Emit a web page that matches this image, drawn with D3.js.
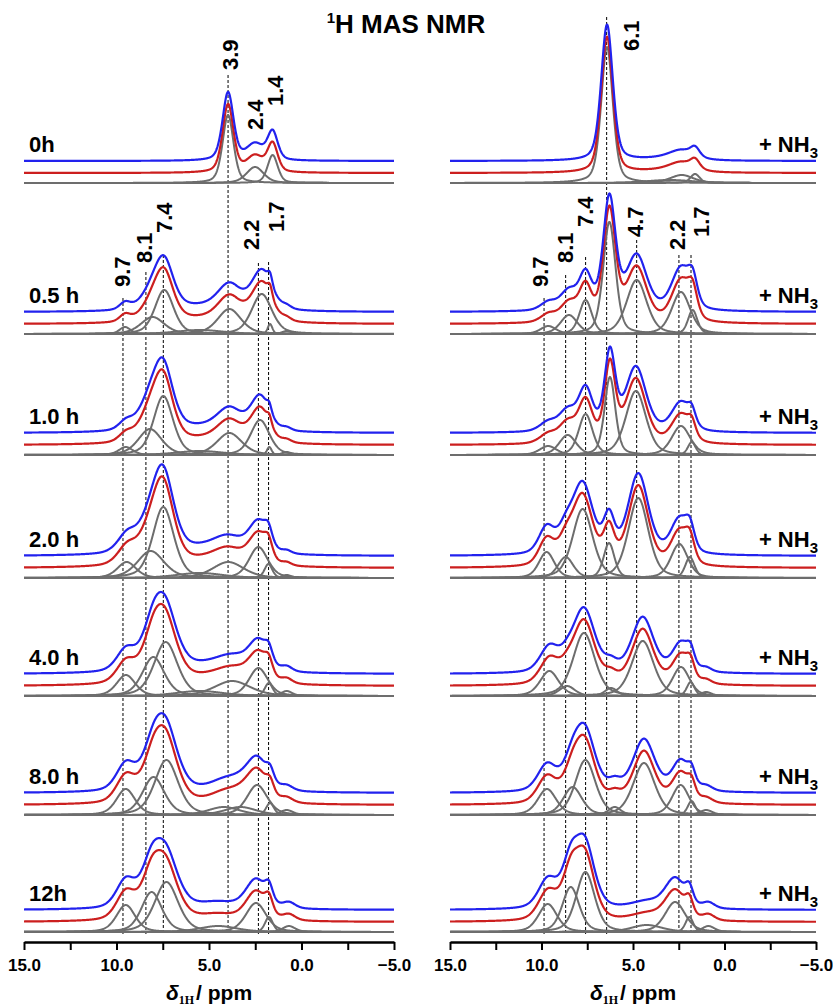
<!DOCTYPE html>
<html>
<head>
<meta charset="utf-8">
<script src="https://cdn.jsdelivr.net/npm/d3@7"></script>
<style>
  body { margin: 0; background: #fff; }
  svg text { font-family: "Liberation Sans", Arial, sans-serif; font-weight: bold; fill: #000; }
</style>
</head>
<body>
<svg id="chart" width="833" height="1008"></svg>
<script>
// ---- data ----
var timeLabels = ["0h", "0.5 h", "1.0 h", "2.0 h", "4.0 h", "8.0 h", "12h"];
var ppmTicks = [15, 12.5, 10, 7.5, 5, 2.5, 0, -2.5, -5];
var ppmTickLabels = [15, 10, 5, 0, -5];

// fitted components per row: [shift ppm, height, fwhm ppm]
var leftPeaks = [
  [[3.97, 68, 0.7], [2.51, 16, 1.1], [1.56, 28, 0.65]],
  [[9.54, 7, 0.7], [8.05, 17, 1.5], [7.42, 44, 1.2], [5.5, 4, 3.0], [3.9, 25, 1.5], [2.15, 40, 1.3], [1.7, 10, 0.3], [0.8, 3, 0.6]],
  [[9.5, 8, 0.9], [8.19, 26, 1.5], [7.47, 59, 1.25], [5.5, 4, 3.0], [3.9, 22, 1.6], [2.24, 35, 1.2], [1.74, 8, 0.3], [0.8, 3, 0.6]],
  [[9.45, 16, 1.2], [8.15, 27, 1.7], [7.47, 71, 1.35], [5.5, 5, 3.0], [3.96, 16, 2.0], [2.33, 31, 1.2], [1.79, 14, 0.5], [0.8, 3, 0.6]],
  [[9.49, 21, 1.2], [8.01, 39, 1.4], [7.34, 54, 1.5], [5.5, 5, 3.0], [3.74, 15, 2.3], [2.33, 28, 1.2], [1.77, 13, 0.5], [0.8, 5, 0.7]],
  [[9.5, 26, 1.2], [8.0, 38, 1.4], [7.3, 55, 1.5], [4.2, 8, 2.0], [3.3, 8, 2.0], [2.4, 30, 1.3], [1.7, 12, 0.5], [0.8, 5, 0.8]],
  [[9.5, 27, 1.2], [8.1, 40, 1.3], [7.3, 50, 1.5], [4.5, 6, 2.4], [2.46, 29, 1.3], [1.76, 15, 0.5], [0.68, 6, 0.8]]
];
var rightPeaks = [
  [[6.42, 136, 0.75], [3.0, 3, 3.0], [2.34, 8, 1.5], [1.61, 9, 0.6]],
  [[9.63, 8, 1.0], [8.5, 19, 1.1], [7.59, 34, 0.8], [6.29, 112, 0.8], [4.8, 54, 1.3], [2.38, 42, 1.2], [1.74, 24, 0.6]],
  [[9.64, 9, 1.1], [8.57, 20, 1.1], [7.59, 41, 0.9], [6.26, 78, 0.7], [4.84, 64, 1.3], [2.38, 29, 1.2], [1.79, 13, 0.5]],
  [[9.72, 26, 1.0], [8.68, 21, 1.0], [7.75, 69, 1.3], [6.31, 35, 0.7], [4.71, 80, 1.3], [2.47, 34, 1.1], [1.89, 21, 0.6]],
  [[9.57, 25, 1.2], [8.6, 10, 1.0], [7.68, 63, 1.4], [6.2, 8, 0.8], [4.47, 55, 1.4], [2.38, 29, 1.1], [1.85, 14, 0.5], [1.0, 4, 0.7]],
  [[9.7, 26, 1.2], [8.3, 28, 1.2], [7.6, 55, 1.3], [6.0, 8, 0.8], [4.4, 52, 1.4], [2.4, 30, 1.1], [1.8, 14, 0.5], [1.0, 5, 0.8]],
  [[9.66, 28, 1.2], [8.4, 45, 1.1], [7.6, 60, 1.2], [4.25, 7, 2.0], [2.7, 30, 1.3], [1.92, 15, 0.5], [0.88, 6, 0.8]]
];

// assignment marks: dashed line position (ppm) and label text
var leftMarks = [
  {ppm: 3.97, text: "3.9"}, {ppm: 2.51, text: "2.4"}, {ppm: 1.56, text: "1.4"},
  {ppm: 9.65, text: "9.7"}, {ppm: 8.41, text: "8.1"}, {ppm: 7.47, text: "7.4"},
  {ppm: 2.33, text: "2.2"}, {ppm: 1.78, text: "1.7"}
];
var rightMarks = [
  {ppm: 6.44, text: "6.1"},
  {ppm: 9.86, text: "9.7"}, {ppm: 8.68, text: "8.1"}, {ppm: 7.59, text: "7.4"},
  {ppm: 4.8, text: "4.7"}, {ppm: 2.49, text: "2.2"}, {ppm: 1.83, text: "1.7"}
];

// ---- layout ----
var svg = d3.select("#chart");
var rowBase = [183, 334, 455, 578, 696, 815, 932];
var redLift = 10, blueLift = 22;
var axisY = 942;
var lorentzFrac = 0.4;

// label spots: [label centre x, label bottom y, dashed line top y or null]
var leftSpots = [[230, 70, 75], [255, 130, null], [275, 106, null],
  [122, 287, 298], [144.5, 263, 272], [164, 233, 255], [251.5, 250, 263], [276.5, 232, 262]];
var rightSpots = [[631.5, 51, 17],
  [540, 287, 298], [565, 263, 275], [585, 227, 257], [635, 237, 240], [677.5, 250, 255], [701.5, 237, 255]];

var panels = [
  {x0: 24, x1: 394, peaks: leftPeaks, marks: leftMarks, spots: leftSpots, side: "left"},
  {x0: 450, x1: 816, peaks: rightPeaks, marks: rightMarks, spots: rightSpots, side: "right"}
];

function component(p, d) {
  var u = (d - p[0]) / p[2];
  var lor = 1 / (1 + 4 * u * u);
  var gau = Math.exp(-4 * Math.LN2 * u * u);
  return p[1] * (lorentzFrac * lor + (1 - lorentzFrac) * gau);
}

var grid = d3.range(15, -5.0001, -0.02);

// title
var title = svg.append("text")
  .attr("x", 406).attr("y", 33)
  .attr("text-anchor", "middle")
  .style("font-size", "26px");
title.append("tspan").text("1").attr("dy", -10).style("font-size", "15px");
title.append("tspan").text("H MAS NMR").attr("dy", 10);

panels.forEach(function(pan) {
  var x = d3.scaleLinear().domain([15, -5]).range([pan.x0, pan.x1]);
  var g = svg.append("g");

  // dashed assignment lines
  pan.marks.forEach(function(m, i) {
    var s = pan.spots[i];
    if (s[2] === null) return;
    g.append("line")
      .attr("x1", x(m.ppm)).attr("x2", x(m.ppm))
      .attr("y1", s[2]).attr("y2", 934)
      .attr("stroke", "#000").attr("stroke-width", 1)
      .attr("stroke-dasharray", "3,2");
  });

  pan.peaks.forEach(function(comps, r) {
    var y = d3.scaleLinear().domain([0, 100]).range([rowBase[r], rowBase[r] - 100]);
    var total = grid.map(function(d) {
      return d3.sum(comps, function(p) { return component(p, d); });
    });

    var line = d3.line()
      .x(function(d) { return x(d[0]); })
      .y(function(d) { return y(d[1]); });

    comps.forEach(function(p) {
      g.append("path")
        .attr("d", line(grid.map(function(d) { return [d, component(p, d)]; })))
        .attr("fill", "none").attr("stroke", "#6d6d6d").attr("stroke-width", 2);
    });
    g.append("path")
      .attr("d", line(grid.map(function(d, i) { return [d, total[i]]; })))
      .attr("transform", "translate(0," + (-redLift) + ")")
      .attr("fill", "none").attr("stroke", "#cc1f1f").attr("stroke-width", 2.2);
    g.append("path")
      .attr("d", line(grid.map(function(d, i) { return [d, total[i]]; })))
      .attr("transform", "translate(0," + (-blueLift) + ")")
      .attr("fill", "none").attr("stroke", "#2222ee").attr("stroke-width", 2.2);

    if (pan.side == "left") {
      g.append("text")
        .attr("x", 29).attr("y", rowBase[r] - 31)
        .style("font-size", "22px")
        .text(timeLabels[r]);
    } else {
      var t = g.append("text")
        .attr("x", 818).attr("y", rowBase[r] - 31)
        .attr("text-anchor", "end")
        .style("font-size", "22px");
      t.append("tspan").text("+ NH");
      t.append("tspan").text("3").attr("dy", 6).style("font-size", "15px");
    }
  });

  // peak labels (rotated)
  pan.marks.forEach(function(m, i) {
    var s = pan.spots[i];
    g.append("text")
      .attr("transform", "translate(" + s[0] + "," + s[1] + ") rotate(-90)")
      .attr("dominant-baseline", "central")
      .style("font-size", "22px")
      .text(m.text);
  });

  // axis
  var axis = d3.axisBottom(x)
    .tickValues(ppmTicks)
    .tickSize(8)
    .tickSizeOuter(0)
    .tickFormat(function(d) { return ppmTickLabels.indexOf(d) >= 0 ? d3.format(".1f")(d) : ""; });
  var ax = svg.append("g").attr("transform", "translate(0," + axisY + ")").call(axis);
  ax.select(".domain").attr("stroke", "#000").attr("stroke-width", 2.5);
  ax.selectAll(".tick line").attr("stroke", "#000").attr("stroke-width", 2);
  ax.selectAll(".tick text")
    .attr("y", 17).attr("dy", "0.71em")
    .style("font-size", "17px")
    .style("font-family", "'Liberation Sans', Arial, sans-serif");

  var xt = svg.append("text")
    .attr("x", (pan.x0 + pan.x1) / 2).attr("y", 1000)
    .attr("text-anchor", "middle")
    .style("font-size", "21px");
  xt.append("tspan").text("δ").style("font-style", "italic");
  xt.append("tspan").text("1H").attr("dy", 4)
    .style("font-size", "12px").style("font-family", "'Liberation Serif', serif");
  xt.append("tspan").text("/ ppm").attr("dy", -4).attr("dx", 2);
});
</script>
</body>
</html>
